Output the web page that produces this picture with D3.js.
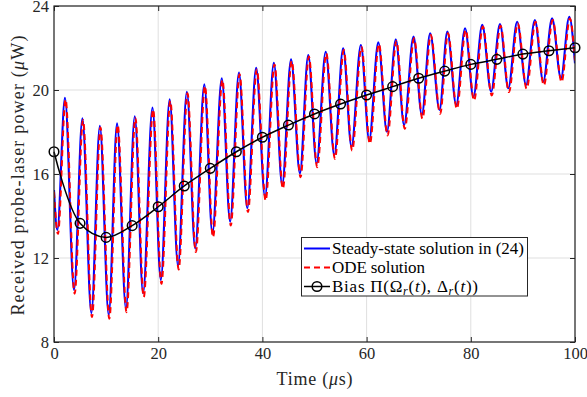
<!DOCTYPE html>
<html><head><meta charset="utf-8">
<script src="https://cdn.jsdelivr.net/npm/d3@7"></script>
<style>body{margin:0;background:#fff}svg{display:block}</style>
</head><body>
<svg id="c" width="587" height="397"></svg>
<script>
// ---------- data ----------
const xTicks = [0, 20, 40, 60, 80, 100];
const yTicks = [8, 12, 16, 20, 24];

// Steady-state solution (extrema)
const ssTime = [0, 0.64,
  2.11, 3.84, 5.45, 7.17, 8.8, 10.5, 12.1, 13.8, 15.5, 17.1, 18.9, 20.5, 22.2, 23.8,
  25.5, 27.1, 28.85, 30.4, 32.2, 33.8, 35.5, 37.1, 38.8, 40.5, 42.2, 43.8, 45.5, 47.2,
  48.8, 50.4, 52.15, 53.8, 55.5, 57.1, 58.9, 60.5, 62.25, 63.9, 65.6, 67.2, 69.0, 70.6,
  72.2, 74.0, 75.5, 77.2, 78.9, 80.5, 82.2, 83.9, 85.6, 87.2, 88.9, 90.6, 92.3, 93.9,
  95.6, 97.3, 98.9, 100];
const ssPower = [15.24, 13.33,
  19.63, 10.48, 18.65, 9.37, 18.29, 9.29, 18.41, 9.6, 18.75, 10.32, 19.16, 10.95, 19.56, 11.63,
  19.92, 12.46, 20.27, 13.17, 20.56, 13.73, 20.83, 14.37, 21.06, 14.92, 21.30, 15.48, 21.46, 16.03,
  21.67, 16.5, 21.82, 16.9, 21.98, 17.3, 22.14, 17.62, 22.27, 18.01, 22.41, 18.33, 22.54, 18.81,
  22.70, 19.05, 22.78, 19.29, 22.94, 19.68, 23.10, 19.92, 23.14, 20.08, 23.25, 20.24, 23.33, 20.4,
  23.41, 20.56, 23.49, 21.27];

// ODE solution
const odeTime = [0, 0.75,
  2.22, 3.96, 5.57, 7.29, 8.92, 10.62, 12.22, 13.92, 15.62, 17.22, 19.02, 20.62, 22.32, 23.92,
  25.62, 27.22, 28.97, 30.52, 32.32, 33.92, 35.62, 37.22, 38.92, 40.62, 42.32, 43.92, 45.62, 47.32,
  48.92, 50.52, 52.27, 53.92, 55.62, 57.22, 59.02, 60.62, 62.37, 64.02, 65.72, 67.32, 69.12, 70.72,
  72.32, 74.12, 75.62, 77.32, 79.02, 80.62, 82.32, 84.02, 85.72, 87.32, 89.02, 90.72, 92.42, 94.02,
  95.72, 97.42, 99.02, 100];
const odePower = [15.15, 13.15,
  19.55, 10.30, 18.57, 9.19, 18.21, 9.11, 18.33, 9.42, 18.67, 10.14, 19.08, 10.77, 19.48, 11.45,
  19.84, 12.28, 20.19, 12.99, 20.48, 13.55, 20.75, 14.19, 20.98, 14.74, 21.22, 15.30, 21.38, 15.85,
  21.59, 16.32, 21.74, 16.72, 21.90, 17.12, 22.06, 17.44, 22.19, 17.83, 22.33, 18.15, 22.46, 18.63,
  22.62, 18.87, 22.70, 19.11, 22.86, 19.50, 23.02, 19.74, 23.06, 19.90, 23.17, 20.06, 23.25, 20.22,
  23.33, 20.38, 23.41, 21.40];

// Bias
const biasTime = [0, 5, 10, 15, 20, 25, 30, 35, 40, 45, 50, 55, 60, 65, 70, 75, 80, 85, 90, 95, 100];
const biasPower = [17.06, 13.65, 12.98, 13.54, 14.44, 15.43, 16.27, 17.06, 17.75, 18.33, 18.86,
  19.33, 19.76, 20.16, 20.56, 20.90, 21.22, 21.46, 21.71, 21.87, 22.01];

// ---------- layout ----------
const m = {l: 54, r: 575, t: 6, b: 342};
const font = "Liberation Serif, Times New Roman, serif";
const axisCol = "#262626";

const svg = d3.select("#c");
const x = d3.scaleLinear().domain([0, 100]).range([m.l, m.r]);
const y = d3.scaleLinear().domain([8, 24]).range([m.b, m.t]);

// adjust a text's letter spacing so that it spans a target width
function fitWidth(sel, target) {
  const node = sel.node();
  const len = node.getComputedTextLength();
  const n = node.textContent.length;
  if (n > 1) sel.attr("letter-spacing", ((target - len) / (n - 1)).toFixed(3));
}

// grid
const g = svg.append("g");
g.selectAll(".gx").data(xTicks).join("line")
  .attr("x1", d => x(d)).attr("x2", d => x(d)).attr("y1", m.t).attr("y2", m.b)
  .attr("stroke", "#dfdfdf").attr("stroke-width", 1);
g.selectAll(".gy").data(yTicks).join("line")
  .attr("x1", m.l).attr("x2", m.r).attr("y1", d => y(d)).attr("y2", d => y(d))
  .attr("stroke", "#dfdfdf").attr("stroke-width", 1);

// clip
svg.append("clipPath").attr("id", "clip").append("rect")
  .attr("x", m.l).attr("y", m.t).attr("width", m.r - m.l).attr("height", m.b - m.t);
const plot = svg.append("g").attr("clip-path", "url(#clip)");

const ssData = ssTime.map((t, i) => [t, ssPower[i]]);
const odeData = odeTime.map((t, i) => [t, odePower[i]]);
const biasData = biasTime.map((t, i) => [t, biasPower[i]]);

const lineMono = d3.line().x(d => x(d[0])).y(d => y(d[1])).curve(d3.curveMonotoneX);
const lineSmooth = d3.line().x(d => x(d[0])).y(d => y(d[1])).curve(d3.curveCatmullRom.alpha(0.5));

plot.append("path").datum(ssData).attr("d", lineMono)
  .attr("fill", "none").attr("stroke", "#0000ff").attr("stroke-width", 2.1);
plot.append("path").datum(odeData).attr("d", lineMono)
  .attr("fill", "none").attr("stroke", "#ff0000").attr("stroke-width", 2)
  .attr("stroke-dasharray", "6,4");
svg.append("path").datum(biasData).attr("d", lineSmooth)
  .attr("fill", "none").attr("stroke", "#000").attr("stroke-width", 1.5);
svg.selectAll(".bc").data(biasData).join("circle")
  .attr("cx", d => x(d[0])).attr("cy", d => y(d[1])).attr("r", 4.8)
  .attr("fill", "none").attr("stroke", "#000").attr("stroke-width", 1.5);

// axes
function styleAxis(sel) {
  sel.select(".domain").remove();
  sel.selectAll(".tick line").attr("stroke", axisCol);
  sel.selectAll("text").attr("font-family", font).attr("font-size", 16.5).attr("fill", axisCol);
}
svg.append("g").attr("transform", `translate(0,${m.b})`)
  .call(d3.axisBottom(x).tickValues(xTicks).tickSizeInner(-5).tickSizeOuter(0).tickPadding(5))
  .call(styleAxis);
svg.append("g").attr("transform", `translate(0,${m.t})`)
  .call(d3.axisTop(x).tickValues(xTicks).tickSizeInner(-5).tickSizeOuter(0).tickFormat(""))
  .call(styleAxis);
svg.append("g").attr("transform", `translate(${m.l},0)`)
  .call(d3.axisLeft(y).tickValues(yTicks).tickSizeInner(-5).tickSizeOuter(0).tickPadding(5))
  .call(styleAxis);
svg.append("g").attr("transform", `translate(${m.r},0)`)
  .call(d3.axisRight(y).tickValues(yTicks).tickSizeInner(-5).tickSizeOuter(0).tickFormat(""))
  .call(styleAxis);

// frame
svg.append("rect").attr("x", m.l).attr("y", m.t).attr("width", m.r - m.l).attr("height", m.b - m.t)
  .attr("fill", "none").attr("stroke", axisCol).attr("stroke-width", 1.2);

// axis labels
const xl = svg.append("text").attr("x", 315).attr("y", 385)
  .attr("text-anchor", "middle").attr("font-family", font).attr("font-size", 18).attr("fill", axisCol);
xl.append("tspan").text("Time (");
xl.append("tspan").attr("font-style", "italic").text("μ");
xl.append("tspan").text("s)");
fitWidth(xl, 76);

const yl = svg.append("text").attr("transform", `translate(24,175) rotate(-90)`)
  .attr("text-anchor", "middle").attr("font-family", font).attr("font-size", 18).attr("fill", axisCol);
yl.append("tspan").text("Received probe-laser power (");
yl.append("tspan").attr("font-style", "italic").text("μ");
yl.append("tspan").text("W)");
fitWidth(yl, 280);

// legend
const lg = svg.append("g");
lg.append("rect").attr("x", 301.5).attr("y", 237.5).attr("width", 226).attr("height", 58.5)
  .attr("fill", "#fff").attr("stroke", axisCol).attr("stroke-width", 1);
const rows = [248.5, 267.5, 286.5];
lg.append("line").attr("x1", 304).attr("x2", 330).attr("y1", rows[0]).attr("y2", rows[0])
  .attr("stroke", "#0000ff").attr("stroke-width", 2);
lg.append("line").attr("x1", 304).attr("x2", 330).attr("y1", rows[1]).attr("y2", rows[1])
  .attr("stroke", "#ff0000").attr("stroke-width", 2).attr("stroke-dasharray", "6,4");
lg.append("line").attr("x1", 304).attr("x2", 330).attr("y1", rows[2]).attr("y2", rows[2])
  .attr("stroke", "#000").attr("stroke-width", 1.5);
lg.append("circle").attr("cx", 317).attr("cy", rows[2]).attr("r", 4.8)
  .attr("fill", "none").attr("stroke", "#000").attr("stroke-width", 1.5);

const tx = 332, fs = 17;
const t1 = lg.append("text").attr("x", tx).attr("y", rows[0] + 5.5).attr("font-family", font).attr("font-size", fs)
  .attr("fill", "#000").text("Steady-state solution in (24)");
fitWidth(t1, 192);
const t2 = lg.append("text").attr("x", tx).attr("y", rows[1] + 5.5).attr("font-family", font).attr("font-size", fs)
  .attr("fill", "#000").text("ODE solution");
fitWidth(t2, 93);
const bt = lg.append("text").attr("x", tx).attr("y", rows[2] + 5.5).attr("font-family", font).attr("font-size", fs)
  .attr("fill", "#000");
bt.append("tspan").text("Bias Π(Ω");
bt.append("tspan").attr("font-style", "italic").attr("font-size", 12).attr("dy", 3).text("r");
bt.append("tspan").attr("dy", -3).text("(");
bt.append("tspan").attr("font-style", "italic").text("t");
bt.append("tspan").text("), Δ");
bt.append("tspan").attr("font-style", "italic").attr("font-size", 12).attr("dy", 3).text("r");
bt.append("tspan").attr("dy", -3).text("(");
bt.append("tspan").attr("font-style", "italic").text("t");
bt.append("tspan").text("))");
fitWidth(bt, 146);
</script>
</body></html>
